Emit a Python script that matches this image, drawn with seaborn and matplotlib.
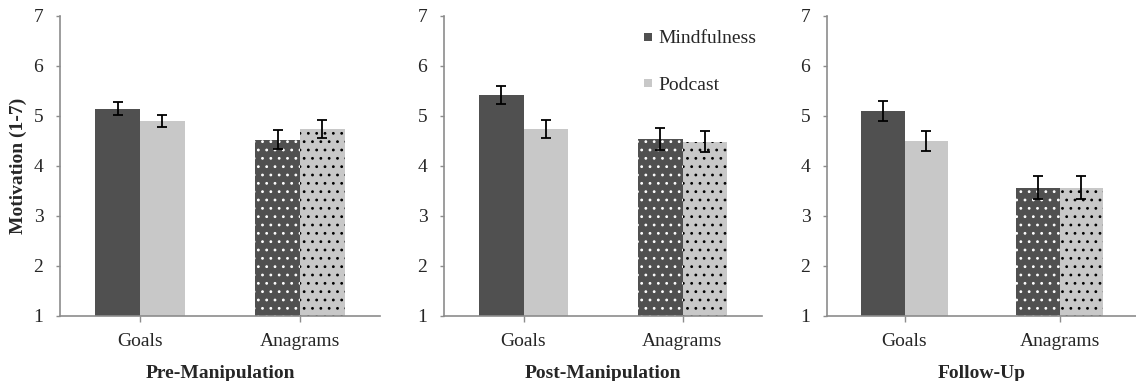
import matplotlib
matplotlib.use("Agg")
import matplotlib.pyplot as plt
from matplotlib.lines import Line2D
import numpy as np
import pandas as pd
import seaborn as sns

# Mean motivation ratings (1-7) and standard errors per phase
phases = ["Pre-Manipulation", "Post-Manipulation", "Follow-Up"]
tasks = ["Goals", "Anagrams"]
conditions = ["Mindfulness", "Podcast"]

pre_mindfulness = [5.15, 4.53]
pre_podcast = [4.90, 4.74]
post_mindfulness = [5.43, 4.55]
post_podcast = [4.74, 4.48]
follow_mindfulness = [5.10, 3.57]
follow_podcast = [4.50, 3.57]

pre_mindfulness_se = [0.14, 0.19]
pre_podcast_se = [0.13, 0.18]
post_mindfulness_se = [0.18, 0.22]
post_podcast_se = [0.18, 0.21]
follow_mindfulness_se = [0.20, 0.23]
follow_podcast_se = [0.19, 0.23]

means = {
    "Pre-Manipulation": (pre_mindfulness, pre_podcast),
    "Post-Manipulation": (post_mindfulness, post_podcast),
    "Follow-Up": (follow_mindfulness, follow_podcast),
}
errors = {
    "Pre-Manipulation": (pre_mindfulness_se, pre_podcast_se),
    "Post-Manipulation": (post_mindfulness_se, post_podcast_se),
    "Follow-Up": (follow_mindfulness_se, follow_podcast_se),
}

sns.set_style("white")
plt.rcParams["font.family"] = ["Liberation Serif", "DejaVu Serif"]
plt.rcParams["hatch.linewidth"] = 0.8

dark = "#505050"
light = "#c8c8c8"
spine_col = "#8c8c8c"
palette = {"Mindfulness": dark, "Podcast": light}
dot_colors = {"Mindfulness": "white", "Podcast": "black"}

W, H = 1136, 381
fig = plt.figure(figsize=(W / 100, H / 100), dpi=100)

axes_px = [(60, 380), (444, 762), (827, 1137)]
top_px, bottom_px = 16, 316

for (left, right), phase in zip(axes_px, phases):
    ax = fig.add_axes([left / W, (H - bottom_px) / H,
                       (right - left) / W, (bottom_px - top_px) / H])
    m_vals, p_vals = means[phase]
    m_err, p_err = errors[phase]
    df = pd.DataFrame({
        "task": tasks * 2,
        "condition": [conditions[0]] * 2 + [conditions[1]] * 2,
        "value": list(m_vals) + list(p_vals),
        "se": list(m_err) + list(p_err),
    })
    sns.barplot(data=df, x="task", y="value", hue="condition",
                order=tasks, hue_order=conditions, palette=palette,
                width=0.56, errorbar=None, bottom=0, ax=ax,
                saturation=1, linewidth=0, legend=False)

    for cond, container in zip(conditions, ax.containers):
        sub = df[df["condition"] == cond].set_index("task").loc[tasks]
        for task, bar, val, se in zip(tasks, container, sub["value"], sub["se"]):
            if task == "Anagrams":
                bar.set_hatch("..")
                bar.set_edgecolor(dot_colors[cond])
                bar.set_linewidth(0)
            cx = bar.get_x() + bar.get_width() / 2
            ax.errorbar(cx, val, yerr=se, color="black", lw=1.3,
                        capsize=3.5, capthick=1.3, zorder=5)

    ax.set_ylim(1, 7)
    ax.set_xlim(-0.5, 1.5)
    ax.set_yticks(range(1, 8))
    ax.tick_params(axis="y", direction="out", length=3, width=1,
                   color=spine_col, labelsize=14, pad=9, left=True)
    ax.tick_params(axis="x", direction="out", length=4, width=1,
                   color=spine_col, labelsize=14, pad=8, bottom=True)
    for s in ("top", "right"):
        ax.spines[s].set_visible(False)
    for s in ("left", "bottom"):
        ax.spines[s].set_color(spine_col)
        ax.spines[s].set_linewidth(1.2)
    ax.set_xlabel(phase, fontsize=14, fontweight="bold", labelpad=11)
    if phase == phases[0]:
        ax.set_ylabel("Motivation (1-7)", fontsize=14, fontweight="bold",
                      labelpad=5)
    else:
        ax.set_ylabel("")

    if phase == phases[1]:
        handles = [Line2D([], [], marker="s", linestyle="none",
                          markersize=6.3, markerfacecolor=palette[c],
                          markeredgewidth=0) for c in conditions]
        ax.legend(handles, conditions, loc="upper left",
                  bbox_to_anchor=(0.60, 0.98), frameon=False, fontsize=14,
                  handlelength=0.6, handletextpad=0.2, labelspacing=1.5,
                  borderaxespad=0)

fig.savefig("out.png", dpi=100)
